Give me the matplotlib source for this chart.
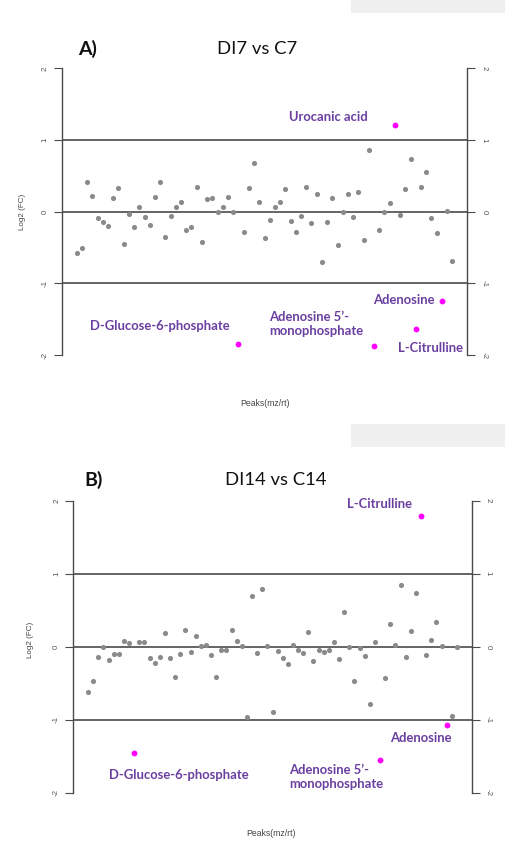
import matplotlib
matplotlib.use("Agg")
import matplotlib.pyplot as plt
from matplotlib.patches import Rectangle

# ---------------- data ----------------
# log2 fold change per peak, in plotting order (index = peak order)
fc_a = [-0.57, -0.51, 0.41, 0.22, -0.09, -0.14, -0.20, 0.19, 0.33, -0.45,
        -0.03, -0.21, 0.06, -0.07, -0.19, 0.21, 0.41, -0.35, -0.06, 0.07,
        0.13, -0.25, -0.22, 0.35, -0.42, 0.18, 0.19, 0.00, 0.07, 0.20,
        0.00, -1.84, -0.28, 0.33, 0.68, 0.13, -0.37, -0.12, 0.06, 0.13,
        0.32, -0.13, -0.28, -0.06, 0.34, -0.16, 0.25, -0.70, -0.15, 0.19,
        -0.46, 0.00, 0.25, -0.08, 0.27, -0.39, 0.86, -1.87, -0.25, -0.01,
        0.12, 1.21, -0.05, 0.32, 0.74, -1.63, 0.35, 0.55, -0.09, -0.30,
        -1.25, 0.01, -0.69]

fc_b = [-0.62, -0.47, -0.14, -0.01, -0.18, -0.10, -0.10, 0.08, 0.05, -1.46,
        0.06, 0.06, -0.16, -0.23, -0.14, 0.19, -0.15, -0.42, -0.10, 0.23,
        -0.07, 0.14, 0.01, 0.02, -0.11, -0.42, -0.04, -0.04, 0.23, 0.08,
        0.01, -0.96, 0.70, -0.08, 0.79, 0.01, -0.89, -0.06, -0.16, -0.24,
        0.03, -0.04, -0.08, 0.20, -0.19, -0.05, -0.07, -0.04, 0.07, -0.17,
        0.48, -0.01, -0.47, -0.02, -0.13, -0.79, 0.07, -1.55, -0.43, 0.31,
        0.03, 0.84, -0.14, 0.22, 0.73, 1.79, -0.12, 0.09, 0.34, 0.01,
        -1.07, -0.95, 0.00]

# highlighted (significant) peaks: index -> name
sig_a = {31: "D-Glucose-6-phosphate", 57: "Adenosine 5\u2019-\nmonophosphate",
         61: "Urocanic acid", 65: "L-Citrulline", 70: "Adenosine"}
sig_b = {9: "D-Glucose-6-phosphate", 57: "Adenosine 5\u2019-\nmonophosphate",
         65: "L-Citrulline", 70: "Adenosine"}

titles = ["DI7 vs C7", "DI14 vs C14"]
panel_tags = ["A)", "B)"]
yticks = [-2, -1, 0, 1, 2]
ytick_labels = ["-2", "-1", "0", "1", "2"]
thresholds = [-1, 0, 1]

# ---------------- layout / style ----------------
W, H = 505, 850
GRAY = "#8a8a8a"
MAG = "#ff00ff"
PURPLE = "#6a3fa0"
AXC = "#4a4a4a"
LAB_FONT = ["Lato", "DejaVu Sans"]
AX_FONT = ["Liberation Sans", "DejaVu Sans"]

fig = plt.figure(figsize=(W / 100, H / 100), dpi=100)
fig.patch.set_facecolor("white")


def fx(x):
    return x / W


def fy(y):
    return 1 - y / H


# faint grey bars at the top right of each panel
for (x0, y0, x1, y1) in [(351, 0, 505, 12.7), (351, 424, 505, 446.7)]:
    fig.patches.append(Rectangle((fx(x0), fy(y1)), fx(x1 - x0), (y1 - y0) / H,
                                 transform=fig.transFigure, facecolor="#f0f0f0",
                                 edgecolor="none", zorder=0))

# axes rectangles (px): left, right, top(y=+2.16), bottom(y=-2.16)
ax_boxes = [(61.7, 467.3, 56.8, 366.6), (73.3, 471.7, 489.0, 804.4)]

# annotation placement (data coords: x index, y value, ha)
ann_a = {31: (15.9, -1.59, "center"), 57: (36.9, -1.56, "left"),
         61: (48.2, 1.32, "center"), 65: (67.9, -1.90, "center"),
         70: (68.7, -1.23, "right")}
ann_b = {9: (17.8, -1.76, "center"), 57: (39.2, -1.78, "left"),
         65: (56.8, 1.95, "center"), 70: (64.9, -1.25, "center")}

panels = [(fc_a, sig_a, ann_a), (fc_b, sig_b, ann_b)]
title_pos = [((88, 49), (257, 49)), ((94, 480), (275.5, 480))]
ylab_pos = [(23, 212), (31, 640)]
xlab_pos = [(265, 403), (271, 834)]

for k, (vals, sig, ann) in enumerate(panels):
    l, r, t, b = ax_boxes[k]
    ax = fig.add_axes([fx(l), fy(b), (r - l) / W, (b - t) / H])
    ax.set_facecolor("none")
    n = len(vals)
    pad = 0.04 * (n - 1)
    ax.set_xlim(-pad, n - 1 + pad)
    ax.set_ylim(-2.16, 2.16)

    xs_g = [i for i in range(n) if i not in sig]
    ys_g = [vals[i] for i in xs_g]
    xs_m = [i for i in range(n) if i in sig]
    ys_m = [vals[i] for i in xs_m]

    for th in thresholds:
        ax.axhline(th, color="#3a3a3a", lw=1.1, zorder=1)
    ax.plot(xs_g, ys_g, "o", color=GRAY, ms=3.7, mec="none", zorder=3)
    ax.plot(xs_m, ys_m, "o", color=MAG, ms=4.2, mec="none", zorder=4)

    for i, name in sig.items():
        tx, ty, ha = ann[i]
        ax.text(tx, ty, name, ha=ha, va="center", color=PURPLE,
                fontsize=9.4, fontweight="bold", family=LAB_FONT,
                linespacing=1.2, zorder=5)

    for s in ["top", "bottom"]:
        ax.spines[s].set_visible(False)
    for s in ["left", "right"]:
        ax.spines[s].set_bounds(-2, 2)
        ax.spines[s].set_color(AXC)
        ax.spines[s].set_linewidth(1.0)
    ax.set_xticks([])
    ax.set_yticks(yticks)
    ax.set_yticklabels(ytick_labels, rotation=90, va="center",
                       family=AX_FONT, fontsize=5.8, color="#555555")
    ax.tick_params(axis="y", which="both", left=True, right=True,
                   labelleft=True, labelright=True, direction="out",
                   length=5.5, width=0.8, color=AXC, pad=4)
    # right-side labels read top to bottom
    for tk in ax.yaxis.get_major_ticks():
        tk.label2.set_rotation(270)
        tk.label2.set_va("center")
        tk.label2.set_family(AX_FONT)
        tk.label2.set_fontsize(5.8)
        tk.label2.set_color("#555555")

    (tagx, tagy), (ttx, tty) = title_pos[k]
    fig.text(fx(tagx), fy(tagy), panel_tags[k], ha="center", va="center",
             fontsize=14, fontweight="bold", family=LAB_FONT, color="#111111")
    fig.text(fx(ttx), fy(tty), titles[k], ha="center", va="center",
             fontsize=13.3, family=LAB_FONT, color="#111111")
    fig.text(fx(ylab_pos[k][0]), fy(ylab_pos[k][1]), "Log2 (FC)", rotation=90,
             ha="center", va="center", fontsize=5.8, family=AX_FONT,
             color="#444444")
    fig.text(fx(xlab_pos[k][0]), fy(xlab_pos[k][1]), "Peaks(mz/rt)",
             ha="center", va="center", fontsize=6.2, family=AX_FONT,
             color="#444444")

fig.savefig("out.png", dpi=100, facecolor="white")
